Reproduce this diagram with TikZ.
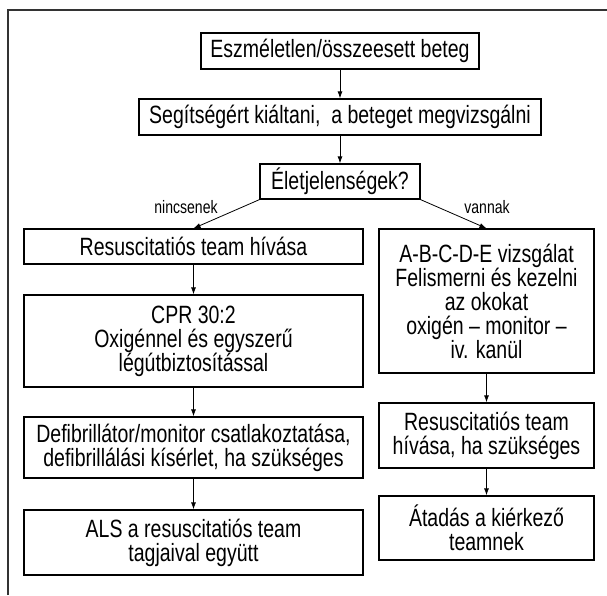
\documentclass[tikz,border=0pt]{standalone}
\usepackage{fontspec}
\setmainfont{Liberation Sans}[FakeStretch=0.78]
\usetikzlibrary{arrows.meta}
\tikzset{
  box/.style={draw=black, line width=1.3pt, align=center, inner sep=0pt,
    font=\fontsize{25}{24}\selectfont, anchor=center},
  lbl/.style={font=\fontsize{18}{18}\selectfont, inner sep=0pt, anchor=base},
  arr/.style={draw=black, line width=0.8pt, -{Latex[length=7pt,width=5pt]}},
  frame/.style={draw=black!80, line width=1.6pt}
}
\begin{document}
\begin{tikzpicture}[x=1pt,y=-1pt]
\useasboundingbox (0,0) rectangle (607,595);
\draw[frame] (8,595) -- (8,10) -- (607,10);
\node[box, minimum width=278, minimum height=36] (b1) at (340,51) {Eszméletlen/összeesett beteg};
\node[box, minimum width=402, minimum height=36] (b2) at (340,117) {Segítségért kiáltani,\ \ a beteget megvizsgálni};
\node[box, minimum width=160, minimum height=35] (b3) at (340,181.5) {Életjelenségek?};
\node[box, minimum width=339, minimum height=35] (b4) at (193.5,246.5) {Resuscitatiós team hívása};
\node[box, minimum width=339, minimum height=92] (b6) at (193.5,341) {CPR 30:2\\Oxigénnel és egyszerű\\légútbiztosítással};
\node[box, minimum width=339, minimum height=61] (b7) at (193.5,447.5) {Defibrillátor/monitor csatlakoztatása,\\defibrillálási kísérlet, ha szükséges};
\node[box, minimum width=339, minimum height=65] (b8) at (193.5,542.5) {ALS a resuscitatiós team\\tagjaival együtt};
\node[box, minimum width=215, minimum height=144] (b5) at (486.5,301) {A-B-C-D-E vizsgálat\\Felismerni és kezelni\\az okokat\\oxigén – monitor –\\iv. kanül};
\node[box, minimum width=215, minimum height=65] (b9) at (486.5,435.5) {Resuscitatiós team\\hívása, ha szükséges};
\node[box, minimum width=215, minimum height=64] (b10) at (486.5,528) {Átadás a kiérkező\\teamnek};
\node[lbl] (l1) at (186,213) {nincsenek};
\node[lbl] (l2) at (487,213) {vannak};
\draw[arr] (b1.south) -- (b2.north);
\draw[arr] (b2.south) -- (b3.north);
\draw[arr] (b3.south west) -- (b4.north);
\draw[arr] (b3.south east) -- (b5.north);
\draw[arr] (b4.south) -- (b6.north);
\draw[arr] (b6.south) -- (b7.north);
\draw[arr] (b7.south) -- (b8.north);
\draw[arr] (b5.south) -- (b9.north);
\draw[arr] (b9.south) -- (b10.north);
\end{tikzpicture}
\end{document}
